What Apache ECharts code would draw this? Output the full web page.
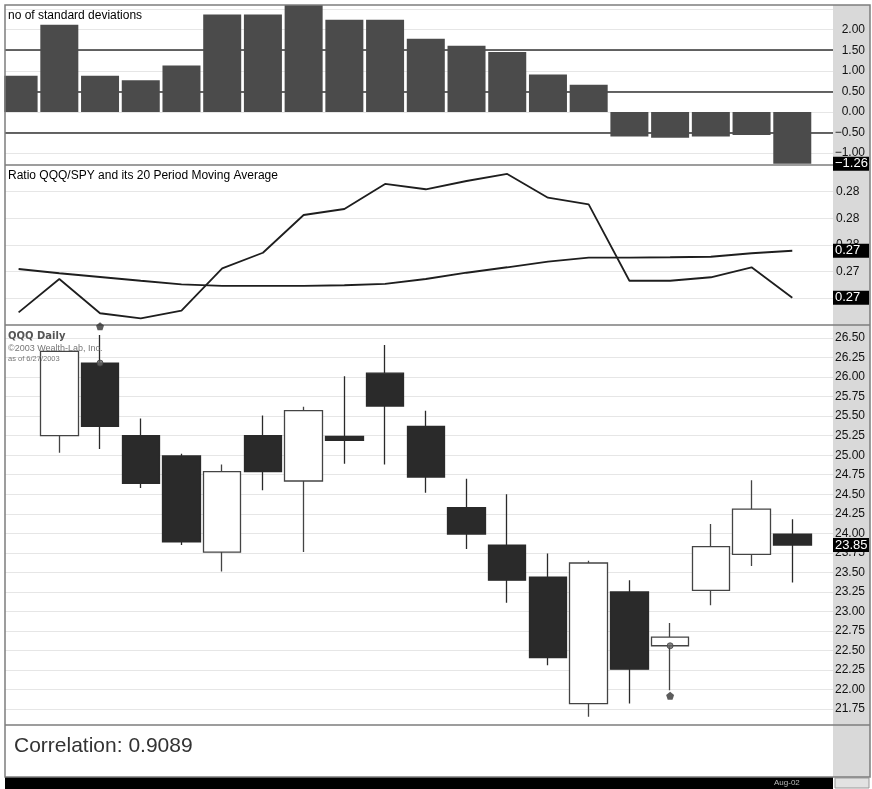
<!DOCTYPE html>
<html>
<head>
<meta charset="utf-8">
<style type="text/css">
html, body { margin: 0; padding: 0; background: #fff; }
#chart { width: 872px; height: 789px; }
</style>
<script type="text/javascript" src="https://cdn.jsdelivr.net/npm/echarts@6/dist/echarts.min.js"></script>
</head>
<body>
<div id="chart"></div>
<script type="text/javascript">
// 20 daily slots, slot 19 = 6/27/2003
var stdDev = [0.88, 2.12, 0.88, 0.77, 1.13, 2.37, 2.37, 2.62, 2.24, 2.24,
	1.78, 1.61, 1.46, 0.91, 0.66, -0.60, -0.63, -0.60, -0.56, -1.26];
var stdBands = [1.5, 0.5, -0.5];

var ratio = [0.27495, 0.27745, 0.27488, 0.27450, 0.27507, 0.27825, 0.27942, 0.28225, 0.28270, 0.28458,
	0.28418, 0.28480, 0.28533, 0.28355, 0.28305, 0.27732, 0.27732, 0.27758, 0.27833, 0.27605];
var ratioMa = [0.27820, 0.27788, 0.27760, 0.27732, 0.27705, 0.27693, 0.27693, 0.27693, 0.27698, 0.27708,
	0.27745, 0.27792, 0.27833, 0.27875, 0.27905, 0.27905, 0.27908, 0.27912, 0.27938, 0.27957];

// QQQ daily, slot 0 has no candle in view
var qqqOpen  = [null, 25.25, 26.18, 25.25, 24.99, 23.76, 25.25, 24.67, 25.24, 26.05, 25.37, 24.33, 23.85, 23.44, 21.82, 23.25, 22.56, 23.27, 23.73, 23.99];
var qqqClose = [null, 26.33, 25.37, 24.64, 23.89, 24.79, 24.79, 25.57, 25.19, 25.63, 24.72, 23.99, 23.40, 22.41, 23.62, 22.26, 22.67, 23.83, 24.31, 23.85];
var qqqLow   = [null, 25.03, 25.08, 24.58, 23.85, 23.51, 24.55, 23.76, 24.89, 24.88, 24.52, 23.80, 23.11, 22.31, 21.65, 21.82, 21.99, 23.08, 23.58, 23.37];
var qqqHigh  = [null, 26.33, 26.54, 25.47, 25.02, 24.88, 25.51, 25.62, 26.01, 26.41, 25.57, 24.70, 24.50, 23.74, 23.65, 23.40, 22.85, 24.12, 24.68, 24.18];

var tradeMarks = [[2, 26.18], [16, 22.56]];
var signalMarks = [[2, 26.65], [16, 21.92]];

var FONT = 'Liberation Sans, Arial, sans-serif';

function fmt(v) { return v.toFixed(2).replace('-', '\u2212'); }
function trunc2(v) { return (Math.floor(v * 100 + 1e-6) / 100).toFixed(2); }

// black value tag in the right hand strip
function lastTag(v, txt) {
	return {
		silent: true,
		precision: 6,
		symbol: ['none', 'none'],
		lineStyle: { color: 'rgba(0,0,0,0)', width: 0 },
		label: {
			show: true, position: 'end', distance: 0, formatter: txt,
			backgroundColor: '#000', color: '#fff', fontSize: 13,
			fontFamily: FONT, width: 32, align: 'left', padding: [1, 2, 0, 2]
		},
		data: [{ yAxis: v }]
	};
}

function idx(arr) {
	return arr.map(function (v, i) { return [i, v]; });
}

var candles = [];
qqqOpen.forEach(function (o, i) {
	if (o != null) candles.push([i, o, qqqClose[i], qqqLow[i], qqqHigh[i]]);
});

var last = stdDev.length - 1;

var chart = echarts.init(document.getElementById('chart'));

var xAx = function (g) {
	return { type: 'value', gridIndex: g, min: -0.334, max: 20, show: false };
};
var yBase = {
	type: 'value', position: 'right', z: 3, scale: true,
	axisLine: { show: false }, axisTick: { show: false },
	splitLine: { show: true, showMinLine: false, showMaxLine: false, lineStyle: { color: '#e6e6e6', width: 1 } }
};

chart.setOption({
	animation: false,
	backgroundColor: '#fff',
	title: [
		{ text: 'no of standard deviations', left: 8, top: 10, padding: 0,
			textStyle: { fontSize: 12, fontWeight: 'normal', color: '#000', fontFamily: FONT } },
		{ text: 'Ratio QQQ/SPY and its 20 Period Moving Average', left: 8, top: 170, padding: 0,
			textStyle: { fontSize: 12, fontWeight: 'normal', color: '#000', fontFamily: FONT } },
		{ text: 'QQQ Daily', left: 8, top: 331, padding: 0,
			textStyle: { fontSize: 10, fontWeight: 'bold', color: '#555', fontFamily: 'DejaVu Sans' } },
		{ text: '\u00a92003 Wealth-Lab, Inc.', left: 8, top: 344, padding: 0,
			textStyle: { fontSize: 9, fontWeight: 'normal', color: '#777', fontFamily: FONT } },
		{ text: 'as of 6/27/2003', left: 8, top: 355, padding: 0,
			textStyle: { fontSize: 7.5, fontWeight: 'normal', color: '#777', fontFamily: FONT } },
		{ text: 'Correlation: 0.9089', left: 14, top: 736, padding: 0,
			textStyle: { fontSize: 21, fontWeight: 'normal', color: '#333', fontFamily: FONT } },
		{ text: 'Aug-02', left: 774, top: 779, padding: 0,
			textStyle: { fontSize: 8, fontWeight: 'normal', color: '#bbb', fontFamily: FONT } }
	],
	graphic: {
		elements: [
			{ type: 'rect', shape: { x: 833, y: 5, width: 37, height: 772 }, style: { fill: '#d9d9d9' } },
			{ type: 'rect', shape: { x: 5, y: 777, width: 828, height: 12 }, style: { fill: '#000' } },
			{ type: 'rect', shape: { x: 835, y: 778, width: 34, height: 10 }, style: { fill: '#e2e2e2', stroke: '#999', lineWidth: 1 } },
			// white margin left of the frame (bars on a value axis are not clipped there)
			{ type: 'rect', z: 20, shape: { x: 0, y: 0, width: 4.3, height: 789 }, style: { fill: '#fff' } },
			{ type: 'line', shape: { x1: 5, y1: 165, x2: 870, y2: 165 }, style: { stroke: '#7d7d7d', lineWidth: 1.5 } },
			{ type: 'line', shape: { x1: 5, y1: 325, x2: 870, y2: 325 }, style: { stroke: '#7d7d7d', lineWidth: 1.5 } },
			{ type: 'line', shape: { x1: 5, y1: 725, x2: 870, y2: 725 }, style: { stroke: '#7d7d7d', lineWidth: 1.5 } },
			{ type: 'rect', z: 21, shape: { x: 5, y: 5, width: 865, height: 772 }, style: { fill: 'none', stroke: '#7d7d7d', lineWidth: 1.5 } }
		]
	},
	grid: [
		{ left: 5, width: 828, top: 5, height: 168.6 },
		{ left: 5, width: 828, top: 165, height: 160 },
		{ left: 5, width: 828, top: 318.55, height: 410 }
	],
	xAxis: [xAx(0), xAx(1), xAx(2)],
	yAxis: [
		echarts.util.merge({
			gridIndex: 0, min: -1.5, max: 2.6, interval: 0.5,
			axisLabel: { align: 'right', margin: 32, color: '#111', fontSize: 12, fontFamily: FONT,
				padding: [0, 0, 7, 0],
				formatter: function (v) { return (v < -1.2 || v > 2.2) ? '' : fmt(v); } }
		}, yBase),
		echarts.util.merge({
			gridIndex: 1, min: 0.274, max: 0.286, interval: 0.002,
			axisLabel: { align: 'left', margin: 3, color: '#111', fontSize: 12, fontFamily: FONT,
				formatter: function (v) { return (v < 0.2745 || v > 0.2855) ? '' : trunc2(v); } }
		}, yBase),
		echarts.util.merge({
			gridIndex: 2, min: 21.5, max: 26.75, interval: 0.25,
			axisLabel: { align: 'right', margin: 32, color: '#111', fontSize: 12, fontFamily: FONT,
				padding: [0, 0, 4, 0],
				formatter: function (v) { return (v < 21.6 || v > 26.6) ? '' : v.toFixed(2); } }
		}, yBase)
	],
	series: [
		{
			type: 'line', name: 'bands', xAxisIndex: 0, yAxisIndex: 0, z: 4, data: [],
			markLine: {
				silent: true, symbol: ['none', 'none'], label: { show: false },
				lineStyle: { color: '#333', width: 1.6, type: 'solid' },
				data: stdBands.map(function (v) { return { yAxis: v }; })
			}
		},
		{
			type: 'bar', name: 'no of standard deviations', xAxisIndex: 0, yAxisIndex: 0, z: 5,
			barWidth: 38, itemStyle: { color: '#4b4b4b' },
			data: idx(stdDev),
			markLine: lastTag(stdDev[last], fmt(stdDev[last]))
		},
		{
			type: 'line', name: 'Ratio QQQ/SPY', xAxisIndex: 1, yAxisIndex: 1, z: 5,
			symbol: 'none', lineStyle: { color: '#1e1e1e', width: 1.8 },
			data: idx(ratio),
			markLine: lastTag(ratio[last], trunc2(ratio[last]))
		},
		{
			type: 'line', name: '20 Period MA', xAxisIndex: 1, yAxisIndex: 1, z: 5,
			symbol: 'none', lineStyle: { color: '#1e1e1e', width: 1.8 },
			data: idx(ratioMa),
			markLine: lastTag(ratioMa[last], trunc2(ratioMa[last]))
		},
		{
			type: 'candlestick', name: 'QQQ', xAxisIndex: 2, yAxisIndex: 2, z: 5,
			barWidth: 38,
			encode: { x: 0, y: [1, 2, 3, 4] },
			itemStyle: { color: '#fff', color0: '#2a2a2a', borderColor: '#444', borderColor0: '#2a2a2a', borderWidth: 1.3 },
			data: candles,
			markLine: lastTag(qqqClose[last], qqqClose[last].toFixed(2))
		},
		{
			type: 'scatter', name: 'trade', xAxisIndex: 2, yAxisIndex: 2, z: 6,
			symbol: 'circle', symbolSize: 6,
			itemStyle: { color: '#666', borderColor: '#444', borderWidth: 1 },
			data: tradeMarks
		},
		{
			type: 'scatter', name: 'signal', xAxisIndex: 2, yAxisIndex: 2, z: 6,
			symbol: 'path://M5,0 L10,4 L8,10 L2,10 L0,4 Z', symbolSize: 8,
			itemStyle: { color: '#333' },
			data: signalMarks
		}
	]
});
</script>
</body>
</html>
